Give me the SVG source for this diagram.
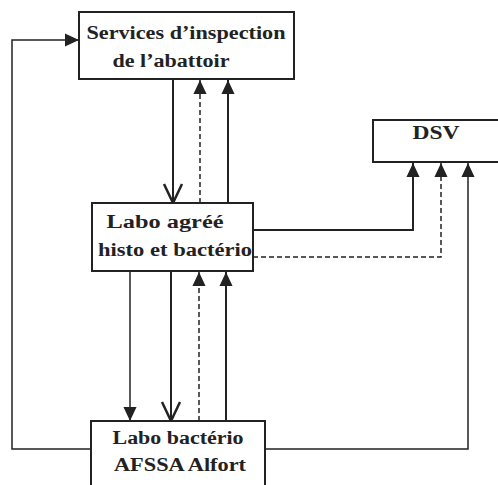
<svg xmlns="http://www.w3.org/2000/svg" width="498" height="485" viewBox="0 0 498 485">
<style>
.box{fill:#fff;stroke:#222;stroke-width:2}
.t{font-family:"Liberation Serif","Times New Roman",serif;font-weight:bold;font-size:18px;fill:#222;text-anchor:middle}
.c{fill:none;stroke:#222;stroke-width:2}
.thin{stroke-width:1.5}
.d{stroke-dasharray:5,3;stroke-width:1.5}
</style>
<defs>
<marker id="af" markerUnits="userSpaceOnUse" markerWidth="14" markerHeight="16" refX="15" refY="7" orient="auto" viewBox="0 0 15 14">
<path d="M0,0 L15,7 L0,14 Z" fill="#222"/>
</marker>
<marker id="av" markerUnits="userSpaceOnUse" markerWidth="22" markerHeight="22" refX="20" refY="10" orient="auto" viewBox="0 0 22 20">
<path d="M1,1 L20,10 L1,19" fill="none" stroke="#222" stroke-width="2.5"/>
</marker>
</defs>
<g id="connectors">
<path class="c thin" d="M91,449 H12 V40 H79" marker-end="url(#af)"/>
<path class="c" d="M173,79 V203" marker-end="url(#av)"/>
<path class="c d" d="M200,203 V80" marker-end="url(#af)"/>
<path class="c" d="M228,203 V80" marker-end="url(#af)"/>
<path class="c" d="M253,230 H413 V163" marker-end="url(#af)"/>
<path class="c d" d="M253,257 H441 V163" marker-end="url(#af)"/>
<path class="c thin" d="M265,449 H468 V163" marker-end="url(#af)"/>
<path class="c thin" d="M130,271 V421" marker-end="url(#af)"/>
<path class="c" d="M171,271 V421" marker-end="url(#av)"/>
<path class="c d" d="M199,421 V272" marker-end="url(#af)"/>
<path class="c" d="M226,421 V272" marker-end="url(#af)"/>
</g>
<g id="services">
<rect class="box" x="79" y="12" width="215" height="67"/>
<text class="t" x="186" y="39" textLength="199" lengthAdjust="spacingAndGlyphs">Services d’inspection</text>
<text class="t" x="171" y="67" textLength="117" lengthAdjust="spacingAndGlyphs">de l’abattoir</text>
</g>
<g id="dsv">
<rect class="box" x="373" y="120" width="130" height="42"/>
<text class="t" x="436" y="139" textLength="47" lengthAdjust="spacingAndGlyphs">DSV</text>
</g>
<g id="labo-agree">
<rect class="box" x="92" y="203" width="161" height="68"/>
<text class="t" x="165" y="228" textLength="117" lengthAdjust="spacingAndGlyphs">Labo agréé</text>
<text class="t" x="175" y="256" textLength="154" lengthAdjust="spacingAndGlyphs">histo et bactério</text>
</g>
<g id="labo-afssa">
<rect class="box" x="91" y="421" width="174" height="70"/>
<text class="t" x="178" y="444" textLength="131" lengthAdjust="spacingAndGlyphs">Labo bactério</text>
<text class="t" x="180" y="471" textLength="132" lengthAdjust="spacingAndGlyphs">AFSSA Alfort</text>
</g>
</svg>
